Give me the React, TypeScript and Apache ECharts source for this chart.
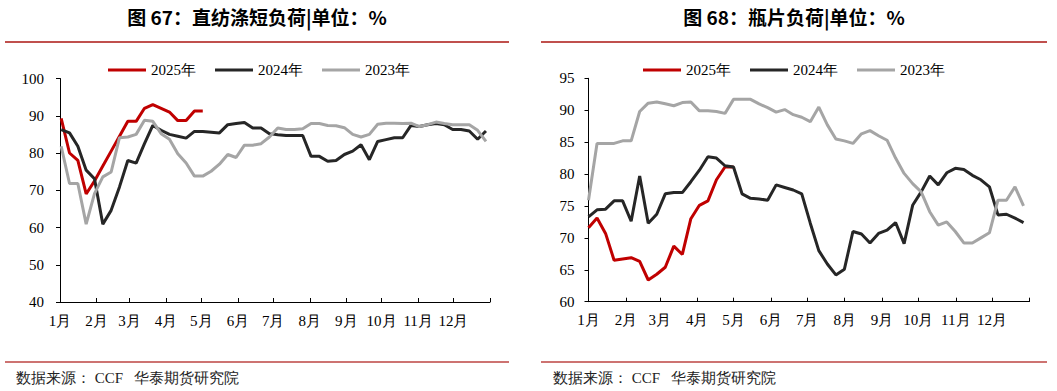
import React, { useEffect, useRef } from 'react';
import * as echarts from 'echarts';

const monthLabels = ['1月', '2月', '3月', '4月', '5月', '6月', '7月', '8月', '9月', '10月', '11月', '12月'];
const monthStartDays = [0, 31, 59, 90, 120, 151, 181, 212, 243, 273, 304, 334];
const yearEndDay = 365;

const leftTitle = '图 67：直纺涤短负荷|单位：%';
const rightTitle = '图 68：瓶片负荷|单位：%';
const sourceText = '数据来源： CCF   华泰期货研究院';
const seriesNames = ['2025年', '2024年', '2023年'];

// 直纺涤短负荷 (weekly)
const staple2025 = [89.3, 80, 78, 69, 72.5, 76.5, 80.5, 84.5, 88.5, 88.5, 92, 93, 92, 91, 88.7, 88.7, 91.3, 91.3];
const staple2024 = [86.3, 85.4, 81.8, 75.4, 73.1, 60.9, 64.6, 70.9, 78, 77.3, 82.5, 87.4, 86.1, 85, 84.5, 84,
  85.8, 85.8, 85.6, 85.4, 87.6, 87.9, 88.2, 86.7, 86.7, 85.2, 84.9, 84.7, 84.7, 84.7, 79.1, 79.1, 77.8, 78,
  79.6, 80.5, 82.2, 78.2, 83.1, 83.6, 84.1, 84.1, 87.4, 87.1, 87.6, 87.9, 87.6, 86.3, 86.3, 85.9, 83.7, 85.9];
const staple2023 = [81.8, 71.8, 71.8, 60.9, 69.1, 73.6, 74.9, 84.1, 84.3, 85, 88.8, 88.5, 85.2, 83.7, 79.8, 77.3,
  73.8, 73.8, 75.1, 77, 79.6, 78.8, 82.1, 82.1, 82.5, 84.3, 86.7, 86.3, 86.3, 86.5, 87.9, 87.9, 87.4, 87.3,
  86.8, 85, 84.3, 85, 87.7, 88, 88, 87.9, 88, 87.1, 87.6, 88.3, 87.9, 87.6, 87.6, 87.6, 86.1, 83.1];

// 瓶片负荷 (weekly)
const bottle2025 = [71.6, 73.1, 70.7, 66.5, 66.7, 66.9, 66.3, 63.4, 64.3, 65.4, 68.7, 67.4, 73, 75.1, 75.8, 79.1, 81.1, 81.1];
const bottle2024 = [73.3, 74.4, 74.5, 75.8, 75.8, 72.6, 79.7, 72.3, 73.7, 76.9, 77.1, 77.1, 78.8, 80.6, 82.7, 82.5,
  81.3, 81.1, 76.9, 76.2, 76.1, 75.9, 78.3, 77.9, 77.5, 76.9, 72.3, 68, 65.9, 64.2, 65.1, 71, 70.6, 69.2,
  70.7, 71.2, 72.4, 69.1, 75.1, 77.2, 79.7, 78.3, 80.2, 80.9, 80.7, 79.8, 79.1, 78, 73.6, 73.7, 73.1, 72.4];
const bottle2023 = [75.9, 84.8, 84.8, 84.8, 85.2, 85.2, 89.8, 91.1, 91.3, 91, 90.7, 91.2, 91.3, 89.9, 89.9, 89.8,
  89.5, 91.7, 91.7, 91.7, 91, 90.4, 89.7, 90.1, 89.3, 88.9, 88.2, 90.5, 87.7, 85.5, 85.2, 84.8, 86.3, 86.8,
  86, 85.3, 82.5, 80.1, 78.5, 77.2, 74.1, 72, 72.5, 71, 69.2, 69.2, 70, 70.8, 75.9, 75.9, 78, 75];

const colors = ['#c00000', '#262626', '#a5a5a5'];
const latinFont = 'Liberation Serif';
const cjkFont = 'Noto Sans CJK SC';
const ruleColor = '#c0504d';

function toPoints(values: number[], startDay: number, stepDays: number) {
  return values.map((v, i) => [startDay + i * stepDays, v]);
}

function xAxisFor(gridIndex: number) {
  return {
    type: 'value',
    gridIndex,
    min: 0,
    max: yearEndDay,
    axisLine: { show: true, onZero: false, lineStyle: { color: '#000', width: 1 } },
    axisTick: {
      show: true,
      inside: true,
      length: 4,
      customValues: [...monthStartDays, yearEndDay],
      lineStyle: { color: '#000', width: 1 },
    },
    axisLabel: {
      customValues: monthStartDays,
      formatter: (v: number) => {
        const idx = monthStartDays.indexOf(Math.round(v));
        return idx >= 0 ? monthLabels[idx] : '';
      },
      color: '#000',
      fontSize: 15,
      fontFamily: latinFont,
      margin: 11,
    },
    splitLine: { show: false },
  };
}

function yAxisFor(gridIndex: number, min: number, max: number, interval: number, margin: number) {
  return {
    type: 'value',
    gridIndex,
    min,
    max,
    interval,
    axisLine: { show: true, lineStyle: { color: '#000', width: 1 } },
    axisTick: { show: true, inside: false, length: 4, lineStyle: { color: '#000', width: 1 } },
    axisLabel: { color: '#000', fontSize: 15, fontFamily: latinFont, margin },
    splitLine: { show: false },
  };
}

function lineSeries(name: string, data: number[][], idx: number, axisIndex: number) {
  return {
    type: 'line',
    name,
    xAxisIndex: axisIndex,
    yAxisIndex: axisIndex,
    data,
    symbol: 'none',
    showSymbol: false,
    lineStyle: { color: colors[idx], width: 3 },
    itemStyle: { color: colors[idx] },
    z: 2,
  };
}

export default function App() {
  const ref = useRef<HTMLDivElement>(null);

  useEffect(() => {
    if (!ref.current) return;
    const chart = echarts.init(ref.current, null, { renderer: 'svg' });
    const legendBase = {
      data: seriesNames.map((name) => ({ name, icon: 'rect' })),
      orient: 'horizontal',
      itemWidth: 38,
      itemHeight: 3,
      itemGap: 19,
      top: 62.5,
      padding: 0,
      textStyle: { color: '#000', fontSize: 15, fontFamily: latinFont },
      selectedMode: false,
    };
    chart.setOption({
      animation: false,
      backgroundColor: '#fff',
      grid: [
        { left: 60, top: 78.5, width: 430, height: 223.5, containLabel: false },
        { left: 588.5, top: 78.3, width: 441, height: 223.4, containLabel: false },
      ],
      legend: [
        { ...legendBase, left: 108 },
        { ...legendBase, left: 643 },
      ],
      xAxis: [xAxisFor(0), xAxisFor(1)],
      yAxis: [yAxisFor(0, 40, 100, 10, 16), yAxisFor(1, 60, 95, 5, 14)],
      series: [
        lineSeries(seriesNames[0], toPoints(staple2025, 1, 7.07), 0, 0),
        lineSeries(seriesNames[1], toPoints(staple2024, 1, 7.07), 1, 0),
        lineSeries(seriesNames[2], toPoints(staple2023, 1, 7.07), 2, 0),
        lineSeries(seriesNames[0], toPoints(bottle2025, 0, 7.06), 0, 1),
        lineSeries(seriesNames[1], toPoints(bottle2024, 0, 7.06), 1, 1),
        lineSeries(seriesNames[2], toPoints(bottle2023, 0, 7.06), 2, 1),
      ],
      graphic: [
        {
          type: 'text',
          style: { text: leftTitle, x: 257, y: 16.5, textAlign: 'center', textVerticalAlign: 'middle', fontSize: 19, fontWeight: 'bold', fontFamily: cjkFont, fill: '#000' },
        },
        {
          type: 'text',
          style: { text: rightTitle, x: 794, y: 16.5, textAlign: 'center', textVerticalAlign: 'middle', fontSize: 19, fontWeight: 'bold', fontFamily: cjkFont, fill: '#000' },
        },
        { type: 'line', shape: { x1: 5, y1: 42, x2: 509, y2: 42 }, style: { stroke: ruleColor, lineWidth: 2 } },
        { type: 'line', shape: { x1: 541, y1: 42, x2: 1047, y2: 42 }, style: { stroke: ruleColor, lineWidth: 2 } },
        { type: 'line', shape: { x1: 5, y1: 362, x2: 509, y2: 362 }, style: { stroke: ruleColor, lineWidth: 2, opacity: 0.8 } },
        { type: 'line', shape: { x1: 541, y1: 362, x2: 1047, y2: 362 }, style: { stroke: ruleColor, lineWidth: 2, opacity: 0.8 } },
        {
          type: 'text',
          style: { text: sourceText, x: 16, y: 378, textVerticalAlign: 'middle', fontSize: 15, fontFamily: latinFont, fill: '#222' },
        },
        {
          type: 'text',
          style: { text: sourceText, x: 553, y: 378, textVerticalAlign: 'middle', fontSize: 15, fontFamily: latinFont, fill: '#222' },
        },
      ],
    });
    return () => chart.dispose();
  }, []);

  return (
    <div
      ref={ref}
      style={{ position: 'absolute', left: 0, top: 0, width: 1057, height: 391, background: '#fff' }}
    />
  );
}
